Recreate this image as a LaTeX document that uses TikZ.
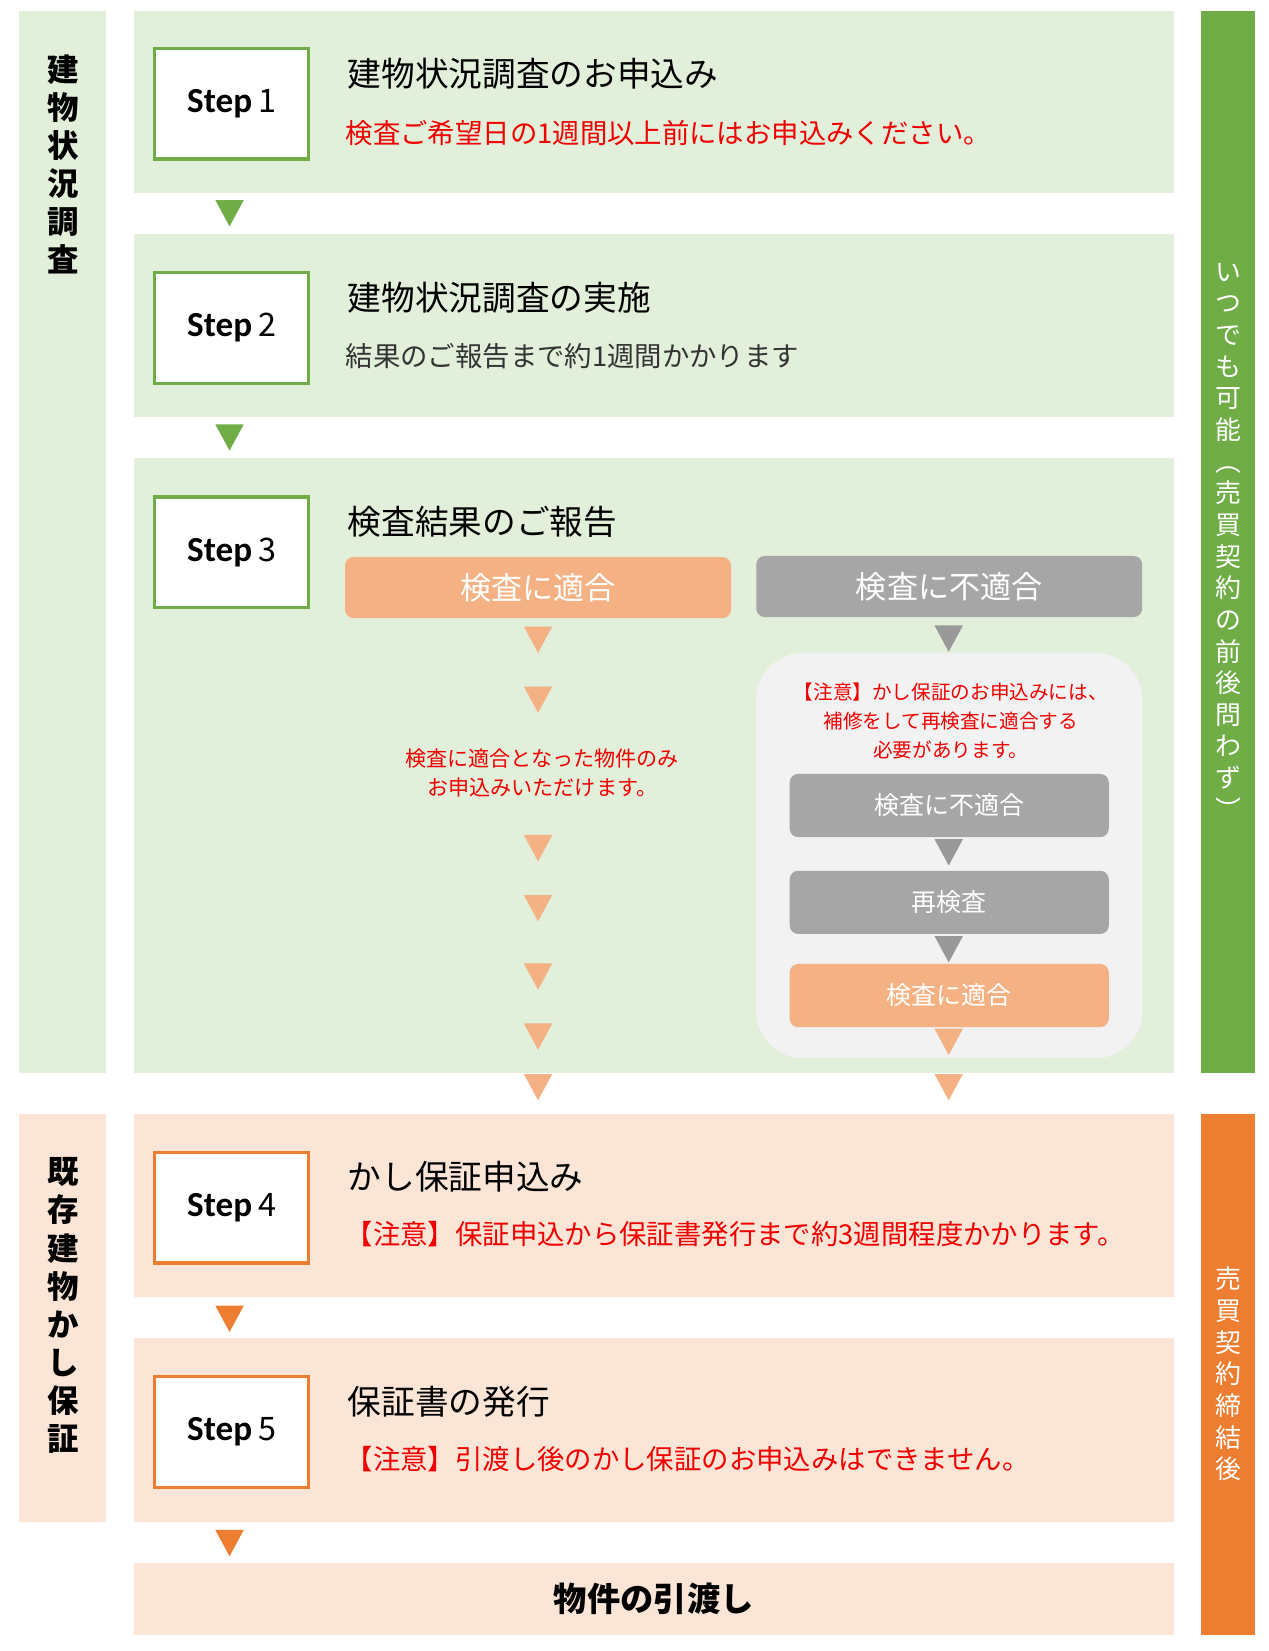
\documentclass[tikz,border=0pt]{standalone}
\usepackage{fontspec}
\setmainfont{Noto Sans CJK JP}
\newfontfamily\latinfont{Carlito}
\definecolor{lgreen}{HTML}{E2EFDA}
\definecolor{dgreen}{HTML}{70AD47}
\definecolor{lpeach}{HTML}{FBE5D6}
\definecolor{dorange}{HTML}{ED7D31}
\definecolor{morange}{HTML}{F4B183}
\definecolor{mgray}{HTML}{A6A6A6}
\definecolor{tgray}{HTML}{999999}
\definecolor{lgray}{HTML}{F2F2F2}
\definecolor{notered}{HTML}{F00000}
\newcommand\steplbl[1]{{\latinfont\bfseries\fontsize{19}{22}\selectfont Step}\hspace{1pt} {\fontsize{17.5}{20}\selectfont #1}}
\begin{document}
\begin{tikzpicture}[x=0.2mm, y=-0.2mm,
    stepbox/.style={draw=#1, line width=1.7pt, fill=white, minimum width=29.2mm, minimum height=21mm},
    title/.style={anchor=west, inner sep=0pt, font=\fontsize{18.2}{22}\selectfont},
    note/.style={anchor=west, inner sep=0pt, font=\fontsize{14.8}{18}\selectfont},
    vlabel/.style={align=center, inner sep=0pt, font=\bfseries\fontsize{17}{20.6}\selectfont},
    rlabel/.style={align=center, inner sep=0pt, text=white, font=\fontsize{14}{17.1}\selectfont},
    result/.style={fill=#1, rounded corners=1.6mm, text=white, inner sep=0pt, minimum width=73.3mm, minimum height=11.6mm, font=\fontsize{16.8}{20}\selectfont},
    subresult/.style={fill=#1, rounded corners=1.6mm, text=white, inner sep=0pt, minimum width=60.6mm, minimum height=12mm, font=\fontsize{13.5}{16}\selectfont},
    small/.style={align=center, inner sep=0pt, text=notered, font=\fontsize{#1}{15.6}\selectfont},
    downtri/.pic={\fill (-13.5,0) -- (13.5,0) -- (0,25) -- cycle;}]
    \useasboundingbox (0,0) rectangle (1205,1568);
    % side bars
    \fill[lgreen] (18,10) rectangle (101,1019);
    \fill[lpeach] (18,1058) rectangle (101,1445);
    \fill[dgreen] (1141,10) rectangle (1192,1019);
    \fill[dorange] (1141,1058) rectangle (1192,1553);
    \node[vlabel] (survey) at (60,156) {建\\物\\状\\況\\調\\査};
    \node[vlabel] (warranty) at (60,1240) {既\\存\\建\\物\\か\\し\\保\\証};
    \node[rlabel] (anytime) at (1167,514) {い\\つ\\で\\も\\可\\能\\︵\\売\\買\\契\\約\\の\\前\\後\\問\\わ\\ず\\︶};
    \node[rlabel] (after) at (1167,1305) {売\\買\\契\\約\\締\\結\\後};
    % bands
    \fill[lgreen] (127,10) rectangle (1115,183);
    \fill[lgreen] (127,222) rectangle (1115,396);
    \fill[lgreen] (127,435) rectangle (1115,1019);
    \fill[lpeach] (127,1058) rectangle (1115,1232);
    \fill[lpeach] (127,1271) rectangle (1115,1445);
    \fill[lpeach] (127,1484) rectangle (1115,1553);
    % steps
    \node[stepbox=dgreen] (s1) at (220,98.5) {\steplbl{1}};
    \node[title] (t1) at (330,70) {建物状況調査のお申込み};
    \node[note, text=notered] (n1) at (328,126) {検査ご希望日の1週間以上前にはお申込みください。};
    \node[stepbox=dgreen] (s2) at (220,311.5) {\steplbl{2}};
    \node[title] (t2) at (330,283) {建物状況調査の実施};
    \node[note, text=black!80] (n2) at (328,338) {結果のご報告まで約1週間かかります};
    \node[stepbox=dgreen] (s3) at (220,524.5) {\steplbl{3}};
    \node[title] (t3) at (330,496) {検査結果のご報告};
    \node[stepbox=dorange] (s4) at (220,1147) {\steplbl{4}};
    \node[title] (t4) at (330,1118) {かし保証申込み};
    \node[note, text=notered] (n4) at (328,1172) {【注意】保証申込から保証書発行まで約3週間程度かかります。};
    \node[stepbox=dorange] (s5) at (220,1360) {\steplbl{5}};
    \node[title] (t5) at (330,1331) {保証書の発行};
    \node[note, text=notered] (n5) at (328,1386) {【注意】引渡し後のかし保証のお申込みはできません。};
    \node[font=\bfseries\fontsize{18}{22}\selectfont] (handover) at (621,1518) {物件の引渡し};
    % results of step 3
    \node[result=morange] (pass) at (511,558) {検査に適合};
    \node[result=mgray] (fail) at (901.5,557) {検査に不適合};
    \node[small=11.4] (passnote) at (515,734) {検査に適合となった物件のみ\\お申込みいただけます。};
    \fill[lgray] (718,620) [rounded corners=9mm] rectangle (1085,1005);
    \node[small=10.6] (failnote) at (903,685) {【注意】かし保証のお申込みには、\\補修をして再検査に適合する\\必要があります。};
    \node[subresult=mgray] (fail2) at (901.5,765) {検査に不適合};
    \node[subresult=mgray] (recheck) at (901.5,857) {再検査};
    \node[subresult=morange] (pass2) at (901.5,945.5) {検査に適合};
    % arrows
    \foreach \y in {190,403}
        \pic[fill=dgreen] at (218,\y) {downtri};
    \foreach \y in {1240,1453}
        \pic[fill=dorange] at (218,\y) {downtri};
    \foreach \y in {595,652,793,850,915,972,1020}
        \pic[fill=morange] at (511,\y) {downtri};
    \foreach \y in {594,797,889}
        \pic[fill=tgray] at (901,\y) {downtri};
    \foreach \y in {977,1020}
        \pic[fill=morange] at (901,\y) {downtri};
\end{tikzpicture}
\end{document}
